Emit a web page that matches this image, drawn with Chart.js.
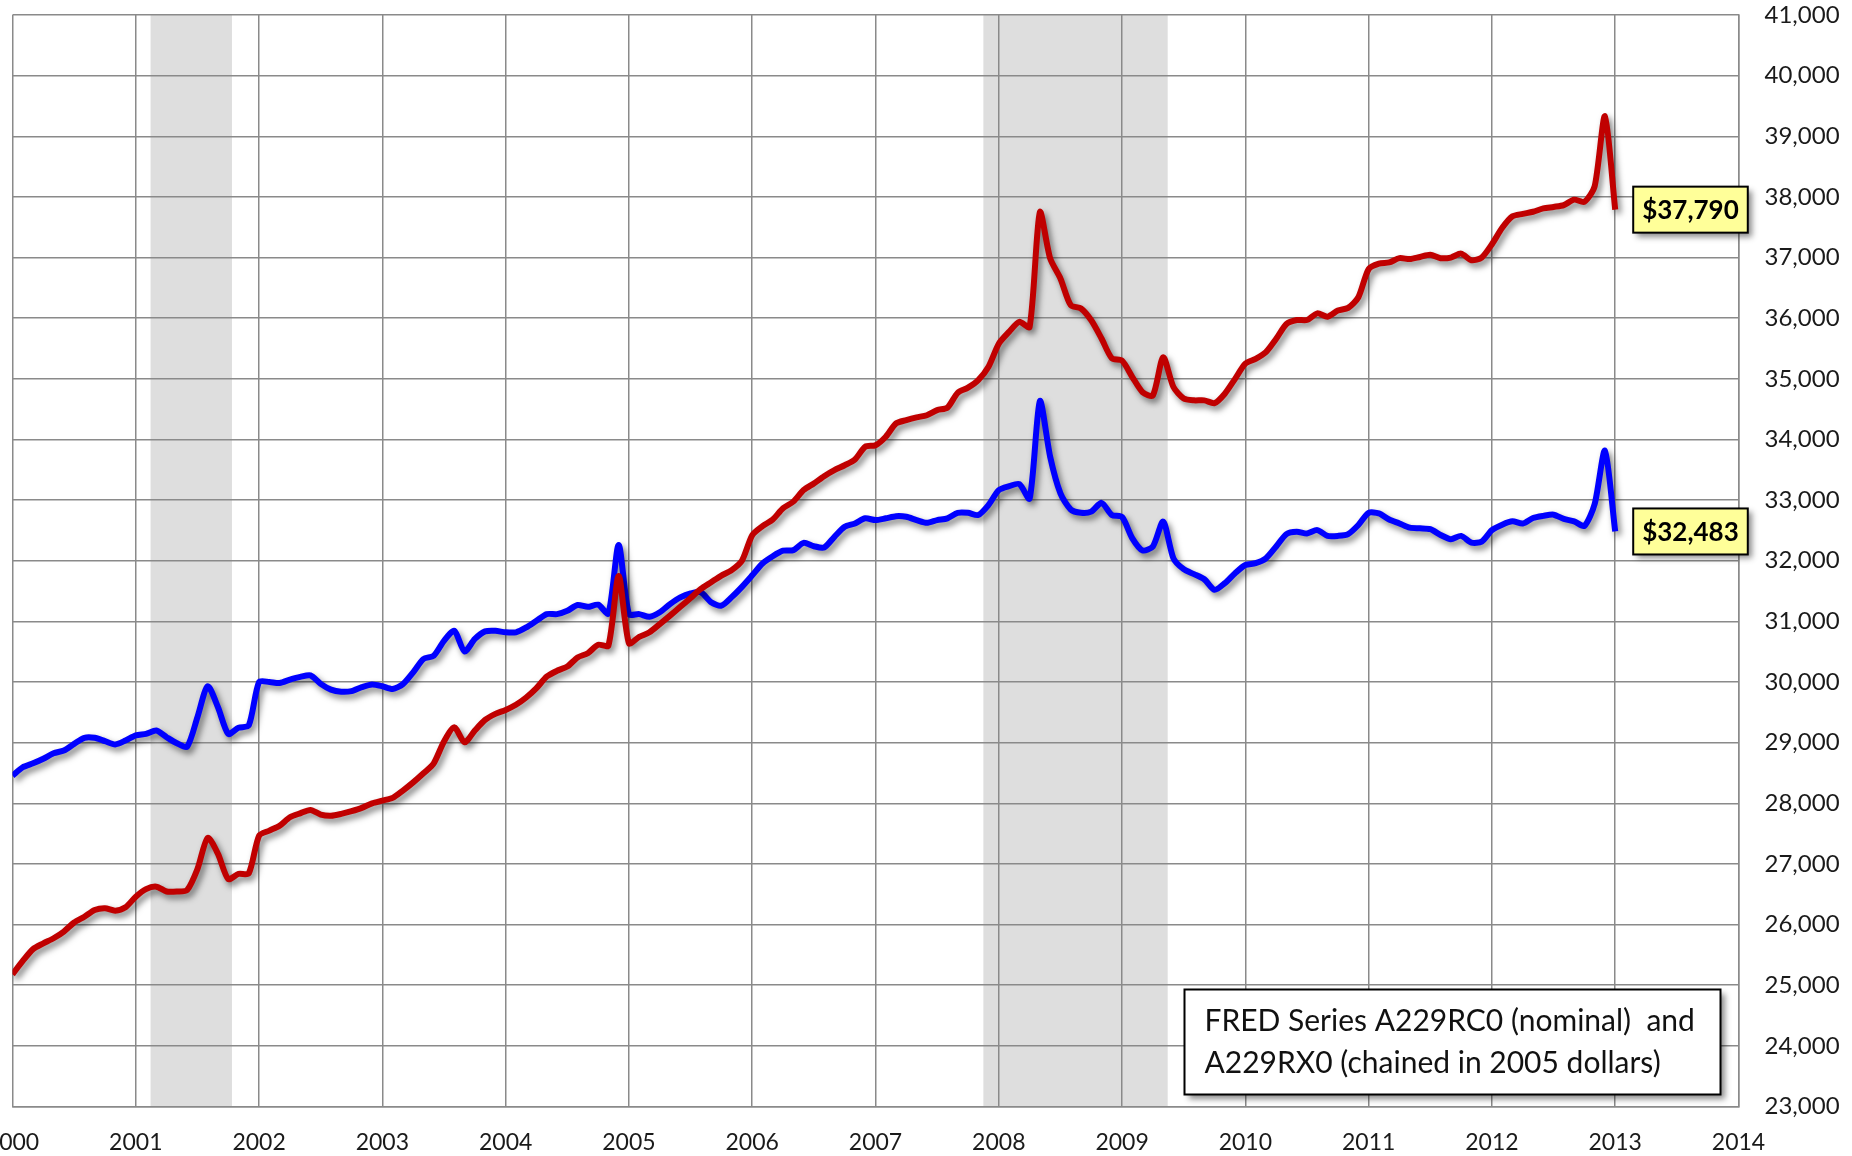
<!DOCTYPE html>
<html>
<head>
<meta charset="utf-8">
<title>Disposable personal income per capita</title>
<script src="https://cdn.jsdelivr.net/npm/chart.js@4.4.1/dist/chart.umd.min.js"></script>
<style>
  html, body { margin: 0; padding: 0; background: #fff; overflow: hidden; }
  #wrap { position: relative; width: 1852px; height: 1156px; overflow: hidden; }
  #chart { position: absolute; left: -40px; top: 0; }
</style>
</head>
<body>
<div id="wrap"><canvas id="chart" width="1892" height="1156"></canvas></div>
<script>
// ------------------------------------------------------------
// DATA (monthly, Jan 2000 .. Jan 2013)
// ------------------------------------------------------------
const startYear = 2000;

// A229RC0 - nominal dollars
const nominal = [
    25180, 25400, 25595, 25690, 25775, 25885, 26035, 26130, 26240, 26270, 26230, 26285, // 2000
    26460, 26585, 26625, 26545, 26545, 26570, 26915, 27430, 27165, 26750, 26835, 26845, // 2001
    27465, 27550, 27630, 27770, 27835, 27890, 27815, 27795, 27825, 27870, 27925, 28000, // 2002
    28045, 28090, 28210, 28345, 28495, 28660, 29020, 29255, 29005, 29200, 29375, 29475, // 2003
    29540, 29625, 29745, 29900, 30090, 30185, 30255, 30405, 30475, 30615, 30600, 31750, // 2004
    30640, 30745, 30820, 30955, 31095, 31240, 31385, 31535, 31645, 31755, 31845, 32000, // 2005
    32420, 32570, 32680, 32865, 32975, 33165, 33275, 33395, 33495, 33575, 33670, 33880, // 2006
    33905, 34045, 34265, 34320, 34365, 34400, 34485, 34525, 34770, 34855, 34980, 35200, // 2007
    35580, 35775, 35940, 35855, 37750, 36985, 36655, 36215, 36160, 35965, 35665, 35340, // 2008
    35300, 35030, 34780, 34725, 35355, 34865, 34675, 34645, 34645, 34600, 34755, 35000, // 2009
    35250, 35330, 35440, 35660, 35905, 35970, 35970, 36080, 36025, 36125, 36170, 36345, // 2010
    36810, 36900, 36920, 36990, 36975, 37010, 37045, 36990, 37000, 37065, 36955, 37000, // 2011
    37220, 37490, 37680, 37720, 37755, 37810, 37835, 37865, 37955, 37920, 38175, 39330, // 2012
    37790                                                                               // 2013
];

// A229RX0 - chained 2005 dollars
const real = [
    28455, 28595, 28660, 28735, 28825, 28870, 28980, 29080, 29080, 29025, 28970, 29035, // 2000
    29120, 29145, 29200, 29090, 28990, 28935, 29420, 29930, 29585, 29145, 29245, 29285, // 2001
    30000, 30000, 29985, 30040, 30085, 30110, 29970, 29875, 29840, 29850, 29915, 29960, // 2002
    29930, 29885, 29965, 30160, 30380, 30435, 30680, 30845, 30505, 30710, 30835, 30845, // 2003
    30820, 30820, 30900, 31010, 31120, 31120, 31175, 31270, 31240, 31275, 31130, 32260, // 2004
    31120, 31120, 31075, 31150, 31285, 31395, 31460, 31480, 31315, 31260, 31400, 31570, // 2005
    31760, 31955, 32075, 32165, 32175, 32295, 32240, 32220, 32395, 32560, 32615, 32700, // 2006
    32670, 32700, 32735, 32725, 32670, 32625, 32670, 32700, 32790, 32790, 32755, 32920, // 2007
    33165, 33230, 33265, 33025, 34635, 33715, 33110, 32845, 32790, 32810, 32955, 32755, // 2008
    32720, 32370, 32170, 32235, 32645, 32040, 31860, 31780, 31695, 31520, 31630, 31795, // 2009
    31930, 31960, 32040, 32235, 32440, 32480, 32450, 32505, 32410, 32410, 32440, 32590, // 2010
    32790, 32780, 32680, 32615, 32545, 32535, 32520, 32425, 32355, 32410, 32300, 32315, // 2011
    32505, 32595, 32650, 32615, 32705, 32740, 32760, 32690, 32650, 32575, 32935, 33815, // 2012
    32483                                                                               // 2013
];

// axis ticks
const yearTicks = [2000, 2001, 2002, 2003, 2004, 2005, 2006, 2007, 2008, 2009, 2010, 2011, 2012, 2013, 2014];
const valueTicks = [23000, 24000, 25000, 26000, 27000, 28000, 29000, 30000, 31000, 32000,
                    33000, 34000, 35000, 36000, 37000, 38000, 39000, 40000, 41000];

// shaded recessions (decimal years, as drawn)
const recessions = [[2001.12, 2001.78], [2007.875, 2009.37]];

const noteLines = ["FRED Series A229RC0 (nominal)  and", "A229RX0 (chained in 2005 dollars)"];

// x position of each monthly value
const months = nominal.map((_, i) => startYear + i / 12);

const FONT = "Lato, 'Open Sans', sans-serif";
const GRID = "#8a8a8a";

// ------------------------------------------------------------
// PLUGINS
// ------------------------------------------------------------
const backdrop = {
    id: "backdrop",
    beforeDraw(chart) {
        const { ctx, chartArea: a, scales: { x } } = chart;
        ctx.save();
        ctx.fillStyle = "#fff";
        ctx.fillRect(0, 0, chart.width, chart.height);
        ctx.fillStyle = "#dedede";
        recessions.forEach(([s, e]) => {
            const x0 = x.getPixelForValue(s);
            const x1 = x.getPixelForValue(e);
            ctx.fillRect(x0, a.top, x1 - x0, a.bottom - a.top);
        });
        ctx.restore();
    }
};

// soft drop shadow under both lines
const lineShadow = {
    id: "lineShadow",
    beforeDatasetDraw(chart) {
        const ctx = chart.ctx;
        ctx.save();
        ctx.shadowColor = "rgba(0,0,0,0.5)";
        ctx.shadowBlur = 6;
        ctx.shadowOffsetX = 3;
        ctx.shadowOffsetY = 4;
    },
    afterDatasetDraw(chart) {
        chart.ctx.restore();
    }
};

function shadowBox(ctx, x, y, w, h, fill) {
    ctx.save();
    ctx.shadowColor = "rgba(0,0,0,0.45)";
    ctx.shadowBlur = 6;
    ctx.shadowOffsetX = 4;
    ctx.shadowOffsetY = 4;
    ctx.fillStyle = fill;
    ctx.fillRect(x, y, w, h);
    ctx.restore();
    ctx.lineWidth = 2;
    ctx.strokeStyle = "#000";
    ctx.strokeRect(x, y, w, h);
}

// last-value boxes and the source note
const callouts = {
    id: "callouts",
    afterDraw(chart) {
        const { ctx, chartArea: a } = chart;
        ctx.save();

        ctx.font = "bold 26px " + FONT;
        ctx.textBaseline = "middle";
        ctx.textAlign = "center";
        chart.data.datasets.forEach((ds, i) => {
            const pts = chart.getDatasetMeta(i).data;
            const p = pts[pts.length - 1];
            const last = ds.data[ds.data.length - 1].y;
            const text = "$" + last.toLocaleString("en-US");
            const w = ctx.measureText(text).width + 18;
            const h = 46;
            const left = p.x + 18;
            shadowBox(ctx, left, p.y - h / 2, w, h, "#ffff99");
            ctx.fillStyle = "#000";
            ctx.fillText(text, left + w / 2, p.y + 1);
        });

        // source note, lower right of the plot
        const bw = 536, bh = 105;
        const bx = a.right - 18 - bw;
        const by = a.bottom - 12 - bh;
        shadowBox(ctx, bx, by, bw, bh, "#fff");
        ctx.font = "30px " + FONT;
        ctx.textAlign = "left";
        ctx.fillStyle = "#111";
        ctx.fillText(noteLines[0], bx + 20, by + 32);
        ctx.fillText(noteLines[1], bx + 20, by + 74);

        ctx.restore();
    }
};

// ------------------------------------------------------------
// INIT CHART
// ------------------------------------------------------------
function initIncomeChart() {
    const ctx = document.getElementById("chart").getContext("2d");

    new Chart(ctx, {
        type: "line",
        data: {
            datasets: [
                {
                    label: "Nominal",
                    data: nominal.map((v, i) => ({ x: months[i], y: v })),
                    borderColor: "#c00000",
                    borderWidth: 6,
                    pointRadius: 0,
                    tension: 0.25
                },
                {
                    label: "Chained 2005 dollars",
                    data: real.map((v, i) => ({ x: months[i], y: v })),
                    borderColor: "#0000ff",
                    borderWidth: 6,
                    pointRadius: 0,
                    tension: 0.25
                }
            ]
        },
        options: {
            responsive: false,
            animation: false,
            devicePixelRatio: 1,
            layout: { padding: { left: 52.5, top: 15, right: 0, bottom: 0 } },
            plugins: {
                legend: { display: false },
                tooltip: { enabled: false }
            },
            scales: {
                x: {
                    type: "linear",
                    min: 2000,
                    max: 2014,
                    afterBuildTicks: s => { s.ticks = yearTicks.map(v => ({ value: v })); },
                    afterFit: s => {
                        s.height = 49.5;
                        s.paddingLeft = 0;
                        s.paddingRight = 0;
                    },
                    ticks: {
                        callback: v => String(v),
                        color: "#1a1a1a",
                        font: { family: FONT, size: 23 },
                        padding: 22,
                        maxRotation: 0,
                        autoSkip: false
                    },
                    grid: { color: GRID, lineWidth: 1.5, drawTicks: false },
                    border: { color: GRID, width: 1.5 }
                },
                y: {
                    position: "right",
                    min: 23000,
                    max: 41000,
                    afterBuildTicks: s => { s.ticks = valueTicks.map(v => ({ value: v })); },
                    afterFit: s => {
                        s.width = 113.5;
                        s.paddingTop = 0;
                        s.paddingBottom = 0;
                    },
                    ticks: {
                        callback: v => v.toLocaleString("en-US"),
                        color: "#1a1a1a",
                        font: { family: FONT, size: 24 },
                        padding: 26
                    },
                    grid: { color: GRID, lineWidth: 1.5, drawTicks: false },
                    border: { color: GRID, width: 1.5 }
                }
            }
        },
        plugins: [backdrop, lineShadow, callouts]
    });
}

document.addEventListener("DOMContentLoaded", initIncomeChart);
</script>
</body>
</html>
